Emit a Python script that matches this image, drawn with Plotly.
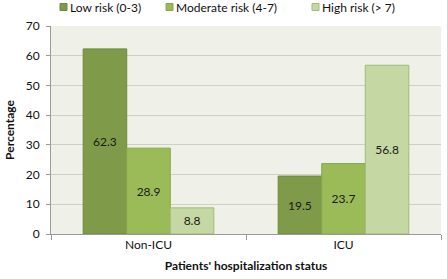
import plotly.graph_objects as go

categories = ["Non-ICU", "ICU"]
series_names = ["Low risk (0-3)", "Moderate risk (4-7)", "High risk (> 7)"]
low = [62.3, 19.5]
moderate = [28.9, 23.7]
high = [8.8, 56.8]
colors = ["#7f9a48", "#9bbb59", "#c5d7a2"]
edges = ["#6d8a3a", "#86a84a", "#a3bb78"]

FONT = "Lato"
L, R, T, B = 51, 6, 26, 45
W, H = 447, 279
pw, ph = W - L - R, H - T - B

fig = go.Figure()
for name, vals, c, e in zip(series_names, [low, moderate, high], colors, edges):
    fig.add_trace(go.Bar(
        x=categories, y=vals, name=name,
        marker=dict(color=c, line=dict(color=e, width=1)),
        text=[f"{v:.1f}" for v in vals], textposition="inside",
        insidetextanchor="middle",
        textfont=dict(family=FONT, size=12, color="#1a1a1a"),
        showlegend=False,
    ))

# legend drawn as shapes + text annotations
legend_x = [60, 166, 312]
shapes = []
annotations = []
for px, name, c, e in zip(legend_x, series_names, colors, edges):
    shapes.append(dict(type="rect", xref="paper", yref="paper",
                       x0=(px - L) / pw, x1=(px + 7 - L) / pw,
                       y0=1 + (T - 10.5) / ph, y1=1 + (T - 3.5) / ph,
                       fillcolor=c, line=dict(color=e, width=1)))
    annotations.append(dict(xref="paper", yref="paper", x=(px + 8 - L) / pw,
                            y=1 + (T - 7) / ph, xanchor="left", yanchor="middle",
                            text=name, showarrow=False,
                            font=dict(family=FONT, size=12, color="#111")))

fig.update_layout(
    width=W, height=H,
    margin=dict(l=L, r=R, t=T, b=B),
    paper_bgcolor="white", plot_bgcolor="#eff1e8",
    barmode="group", bargap=0.33, bargroupgap=0,
    font=dict(family=FONT, size=12, color="#111"),
    showlegend=False,
    shapes=shapes, annotations=annotations,
)
fig.update_yaxes(range=[0, 70], dtick=10, gridcolor="#cdcfc8", gridwidth=1,
                 showline=True, linecolor="#9a9a9a", ticks="outside", ticklen=4,
                 tickcolor="#9a9a9a", zeroline=False, automargin=False,
                 ticklabelstandoff=4,
                 title=dict(text="<b>Percentage</b>", standoff=8, font=dict(size=12)),
                 tickfont=dict(size=12))
fig.update_xaxes(showline=True, linecolor="#9a9a9a", ticks="outside", ticklen=5,
                 tickcolor="#9a9a9a", tickson="boundaries", automargin=False,
                 title=dict(text="<b>Patients' hospitalization status</b>", standoff=10, font=dict(size=12)),
                 tickfont=dict(size=12))
fig.write_html("out.html", config={"displayModeBar": False},
               post_script="document.body.style.margin='0';document.body.style.overflow='hidden';")
